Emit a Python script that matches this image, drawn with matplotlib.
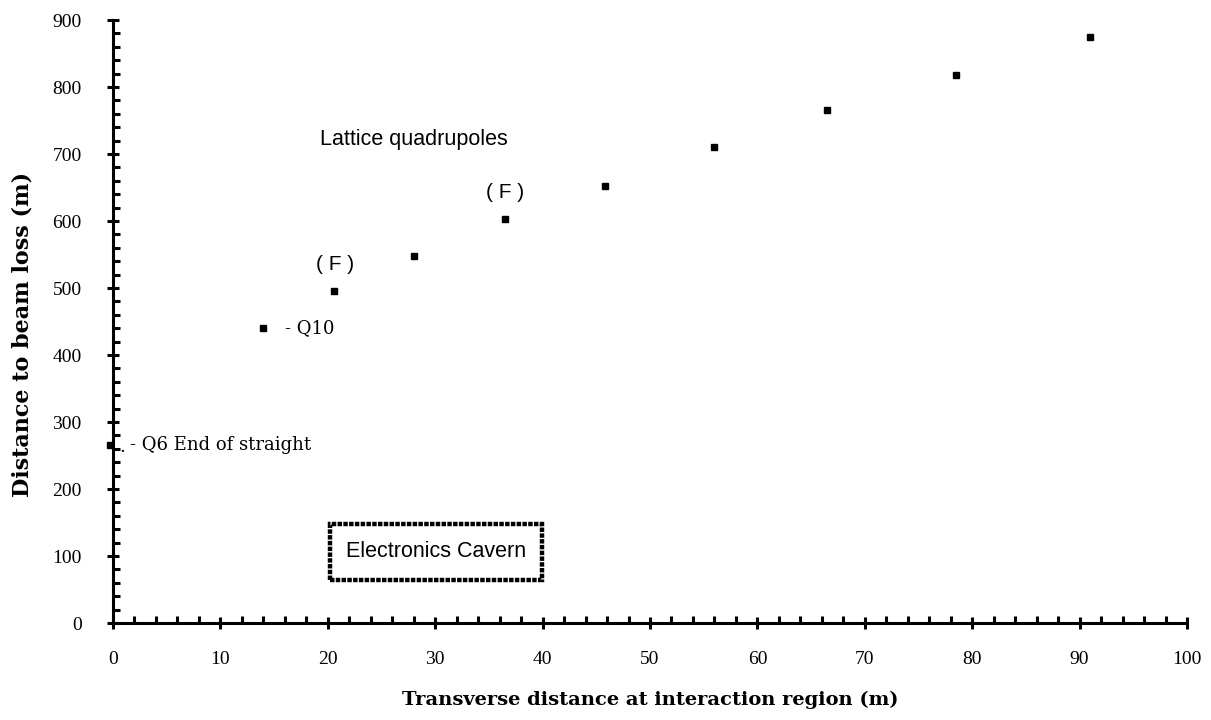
import matplotlib
matplotlib.use("Agg")
from matplotlib import pyplot as plt
from matplotlib.patches import Rectangle
import matplotlib.ticker as ticker

# точки: поперечное расстояние (м) и расстояние до потери пучка (м)
x_quad = [-0.3, 14.0, 20.6, 28.0, 36.5, 45.8, 56.0, 66.5, 78.5, 91.0]
y_quad = [265, 440, 495, 548, 603, 653, 710, 765, 818, 875]

serif = ['Liberation Serif', 'DejaVu Serif']
wide_serif = ['DejaVu Serif']
sans = ['Liberation Sans', 'DejaVu Sans']

fig = plt.figure(figsize=(12.11, 7.2), dpi=100)
ax = fig.add_axes([0.0933, 0.1347, 0.8869, 0.8375])

ax.plot(x_quad, y_quad, 's', color='black', markersize=4, clip_on=False)

ax.set_xlim(0, 100)
ax.set_ylim(0, 900)

for s in ['top', 'right']:
    ax.spines[s].set_visible(False)
for s in ['left', 'bottom']:
    ax.spines[s].set_linewidth(2.2)

ax.xaxis.set_major_locator(ticker.MultipleLocator(10))
ax.xaxis.set_minor_locator(ticker.MultipleLocator(2))
ax.yaxis.set_major_locator(ticker.MultipleLocator(100))
ax.yaxis.set_minor_locator(ticker.MultipleLocator(20))
ax.tick_params(which='major', direction='inout', length=9, width=2.2)
ax.tick_params(which='minor', direction='in', length=5, width=2.2)
ax.tick_params(axis='x', which='major', pad=16)
ax.tick_params(axis='y', which='major', pad=18)
for lab in ax.get_xticklabels() + ax.get_yticklabels():
    lab.set_family(serif)
    lab.set_fontsize(14)

ax.set_xlabel('Transverse distance at interaction region (m)', family=wide_serif,
              fontsize=14, fontweight='bold', labelpad=16)
ax.set_ylabel('Distance to beam loss (m)', family=wide_serif,
              fontsize=16, fontweight='bold')
ax.yaxis.set_label_coords(-0.074, 0.478)

# подписи
ax.text(19.3, 722, 'Lattice quadrupoles', family=sans, fontsize=15.5, va='center')
ax.text(20.7, 535, '( F )', family=sans, fontsize=15, ha='center', va='center')
ax.text(36.5, 643, '( F )', family=sans, fontsize=15, ha='center', va='center')
ax.text(16.0, 440, '- Q10', family=wide_serif, fontsize=13, va='center')
ax.text(0.6, 262, '.', family=wide_serif, fontsize=13, va='center')
ax.text(1.6, 265, '- Q6 End of straight', family=wide_serif, fontsize=13, va='center')

# блок электроники
ax.add_patch(Rectangle((20.2, 64), 19.7, 84, fill=False, edgecolor='black',
                       linewidth=3.2, linestyle=(0, (1, 0.3))))
ax.text(30.05, 106, 'Electronics Cavern', family=sans, fontsize=15.5,
        ha='center', va='center')

fig.savefig('out.png', dpi=100)
